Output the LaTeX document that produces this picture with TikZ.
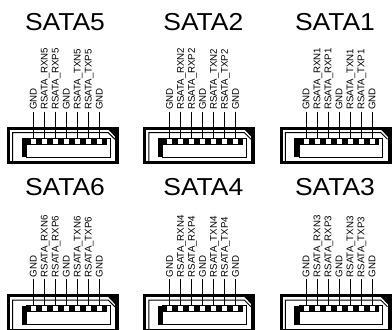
\documentclass[tikz,border=0pt]{standalone}
\usepackage{fontspec}
\setmainfont{Liberation Sans}
\tikzset{
  x=1pt, y=-1pt,
  pinlabel/.style={rotate=90, anchor=base west, inner sep=0pt, font=\fontsize{9.7}{10}\selectfont},
  titlelabel/.style={anchor=base, inner sep=0pt, font=\fontsize{24.5}{26}\selectfont},
  outerwall/.style={line width=2.7pt},
  thinline/.style={line width=0.95pt},
  pinline/.style={line width=1pt},
  pics/sata/.style={code={
    \foreach \k/\t in {0/GND,1/RSATA\_RXN#1,2/RSATA\_RXP#1,3/GND,4/RSATA\_TXN#1,5/RSATA\_TXP#1,6/GND}{
      \node[pinlabel] (-l\k) at ({11*\k+3.4},0) {\t};
      \draw[pinline] ({11*\k},1.7) -- ({11*\k},28);
    }
    \draw[outerwall] (-24.7,18.2) rectangle (84.2,52.8);
    \fill (81.5,17) rectangle (85.5,54);
    \fill (74.5,19) -- (83,19) -- (83,28) -- cycle;
    \draw[thinline] (-20.6,54) -- (-20.6,22.7) -- (75,22.7) -- (81.5,29.2);
    \fill (-11.6,28) rectangle (-6.6,47);
    \draw[thinline] (-6.6,28) rectangle (76.7,47);
    \draw[thinline] (-6.6,34) -- (72.7,34) -- (72.7,28);
    \fill (-6.6,28) rectangle (-2.5,34);
    \foreach \k in {0,...,5}{ \fill ({11*\k+2.5},28) rectangle ({11*\k+8.5},34); }
    \fill (68.5,28) rectangle (72.7,34);
  }}
}
\begin{document}
\begin{tikzpicture}
\useasboundingbox[fill=white] (0,0) rectangle (392,330);
\begin{scope}
\clip (0,0) rectangle (392,330);
\pic (c5) at (33.3,110) {sata=5};
\pic (c2) at (169.5,110) {sata=2};
\pic (c1) at (306,110) {sata=1};
\pic (c6) at (33.3,277.5) {sata=6};
\pic (c4) at (169.5,277.5) {sata=4};
\pic (c3) at (306,277.5) {sata=3};
\end{scope}
\node[titlelabel, xscale=1.08] (t5) at (65,30.7) {SATA5};
\node[titlelabel, xscale=1.08] (t2) at (203.3,30.7) {SATA2};
\node[titlelabel, xscale=1.08] (t1) at (335,30.7) {SATA1};
\node[titlelabel, xscale=1.08] (t6) at (65,195.7) {SATA6};
\node[titlelabel, xscale=1.08] (t4) at (203.3,195.7) {SATA4};
\node[titlelabel, xscale=1.08] (t3) at (335,195.7) {SATA3};
\end{tikzpicture}
\end{document}
